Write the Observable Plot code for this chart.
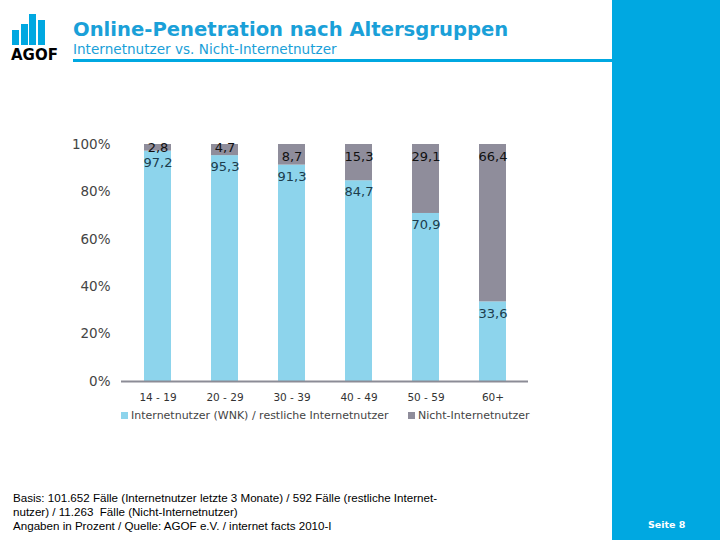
<!DOCTYPE html>
<html>
<head>
<meta charset="utf-8">
<script src="https://cdn.jsdelivr.net/npm/d3@7"></script>
<script src="https://cdn.jsdelivr.net/npm/@observablehq/plot@0.6"></script>
<style>
  html, body { margin: 0; padding: 0; background: #fff; }
  #slide { position: relative; width: 720px; height: 540px; overflow: hidden; background: #fff; font-family: "DejaVu Sans", Verdana, sans-serif; }
  #band { position: absolute; left: 612px; top: 0; width: 108px; height: 540px; background: #00a8e1; }
  #rule { position: absolute; left: 73px; top: 59px; width: 540px; height: 3px; background: #00a8e1; }
  #logo { position: absolute; left: 12px; top: 13px; width: 50px; height: 50px; }
  #logo .b { position: absolute; bottom: 18px; width: 7px; background: #00a8e1; }
  #logo .t { position: absolute; left: -1px; top: 33px; font: bold 15px "DejaVu Sans", sans-serif; color: #000; }
  #title { position: absolute; left: 73px; top: 18px; font: bold 19.6px "DejaVu Sans", Verdana, sans-serif; color: #1aa0d8; white-space: nowrap; }
  #subtitle { position: absolute; left: 73px; top: 41px; font: 13.6px "DejaVu Sans", Verdana, sans-serif; color: #1aa0d8; white-space: nowrap; }
  #chart { position: absolute; left: 0; top: 120px; }
  #legend { position: absolute; left: 121px; top: 409px; font: 11px "DejaVu Sans", Verdana, sans-serif; color: #444; white-space: nowrap; }
  #legend span.item { position: absolute; top: 0; }
  #legend span.sw { display: inline-block; width: 7px; height: 7px; margin-right: 3px; vertical-align: 0px; }
  #foot { position: absolute; left: 13px; top: 491px; font: 11.6px "Liberation Sans", Arial, sans-serif; color: #000; line-height: 14px; white-space: nowrap; }
  #page { position: absolute; left: 648px; top: 519px; font: bold 9.5px "DejaVu Sans", Verdana, sans-serif; color: #fff; }
</style>
</head>
<body>
<div id="slide">
  <div id="band"></div>
  <div id="rule"></div>
  <div id="logo">
    <div class="b" style="left:0;height:15px"></div>
    <div class="b" style="left:9px;height:21px"></div>
    <div class="b" style="left:17px;height:31px"></div>
    <div class="b" style="left:26px;height:25px"></div>
    <div class="t">AGOF</div>
  </div>
  <div id="title">Online-Penetration nach Altersgruppen</div>
  <div id="subtitle">Internetnutzer vs. Nicht-Internetnutzer</div>
  <div id="chart"></div>
  <div id="legend"></div>
  <div id="foot">Basis: 101.652 Fälle (Internetnutzer letzte 3 Monate) / 592 Fälle (restliche Internet-<br>nutzer) / 11.263&nbsp; Fälle (Nicht-Internetnutzer)<br>Angaben in Prozent / Quelle: AGOF e.V. / internet facts 2010-I</div>
  <div id="page">Seite 8</div>
</div>
<script>
const ageGroups = ["14 - 19", "20 - 29", "30 - 39", "40 - 49", "50 - 59", "60+"];
const internetnutzer = [97.2, 95.3, 91.3, 84.7, 70.9, 33.6];
const nichtInternetnutzer = [2.8, 4.7, 8.7, 15.3, 29.1, 66.4];
const seriesNames = ["Internetnutzer (WNK) / restliche Internetnutzer", "Nicht-Internetnutzer"];
const seriesColors = ["#8dd4ec", "#8f8d9b"];
const yTicks = [0, 20, 40, 60, 80, 100];

const fmt = v => v.toFixed(1).replace(".", ",");

const rows = [];
ageGroups.forEach((a, i) => {
  rows.push({age: a, series: seriesNames[0], value: internetnutzer[i], top: internetnutzer[i]});
  rows.push({age: a, series: seriesNames[1], value: nichtInternetnutzer[i], top: internetnutzer[i] + nichtInternetnutzer[i]});
});
const blueRows = rows.filter(d => d.series === seriesNames[0]);
const grayRows = rows.filter(d => d.series === seriesNames[1]);

const chart = Plot.plot({
  width: 560,
  height: 311,
  marginLeft: 121,
  marginRight: 32,
  marginTop: 24,
  marginBottom: 50,
  style: {fontFamily: "DejaVu Sans, Verdana, sans-serif", background: "transparent"},
  x: {domain: ageGroups, paddingInner: 0.6, paddingOuter: 0.3, label: null},
  y: {domain: [0, 100], label: null},
  color: {domain: seriesNames, range: seriesColors},
  marks: [
    Plot.barY(rows, {x: "age", y: "value", fill: "series", order: seriesNames}),
    Plot.ruleY([0], {stroke: "#8c8c96", strokeWidth: 2}),
    Plot.axisY({ticks: yTicks, tickSize: 0, tickPadding: 11, tickFormat: d => d + "%", fontSize: 13.5, fill: "#444", label: null}),
    Plot.axisX({tickSize: 0, tickPadding: 12, fontSize: 10.5, fill: "#333", label: null}),
    Plot.text(blueRows, {x: "age", y: "top", text: d => fmt(d.value), dy: 11.5, fontSize: 13, fill: "#1c3c4c"}),
    Plot.text(grayRows.filter(d => d.value >= 5), {x: "age", y: "top", text: d => fmt(d.value), dy: 12, fontSize: 13, fill: "#111"}),
    Plot.text(grayRows.filter(d => d.value < 5), {x: "age", y: "top", text: d => fmt(d.value), dy: 3.5, fontSize: 13, fill: "#111"})
  ]
});
document.getElementById("chart").appendChild(chart);

const legend = document.getElementById("legend");
const legendOffsets = [0, 287];
seriesNames.forEach((name, i) => {
  const item = document.createElement("span");
  item.className = "item";
  item.style.left = legendOffsets[i] + "px";
  const sw = document.createElement("span");
  sw.className = "sw";
  sw.style.background = seriesColors[i];
  item.appendChild(sw);
  item.appendChild(document.createTextNode(name));
  legend.appendChild(item);
});
</script>
</body>
</html>
